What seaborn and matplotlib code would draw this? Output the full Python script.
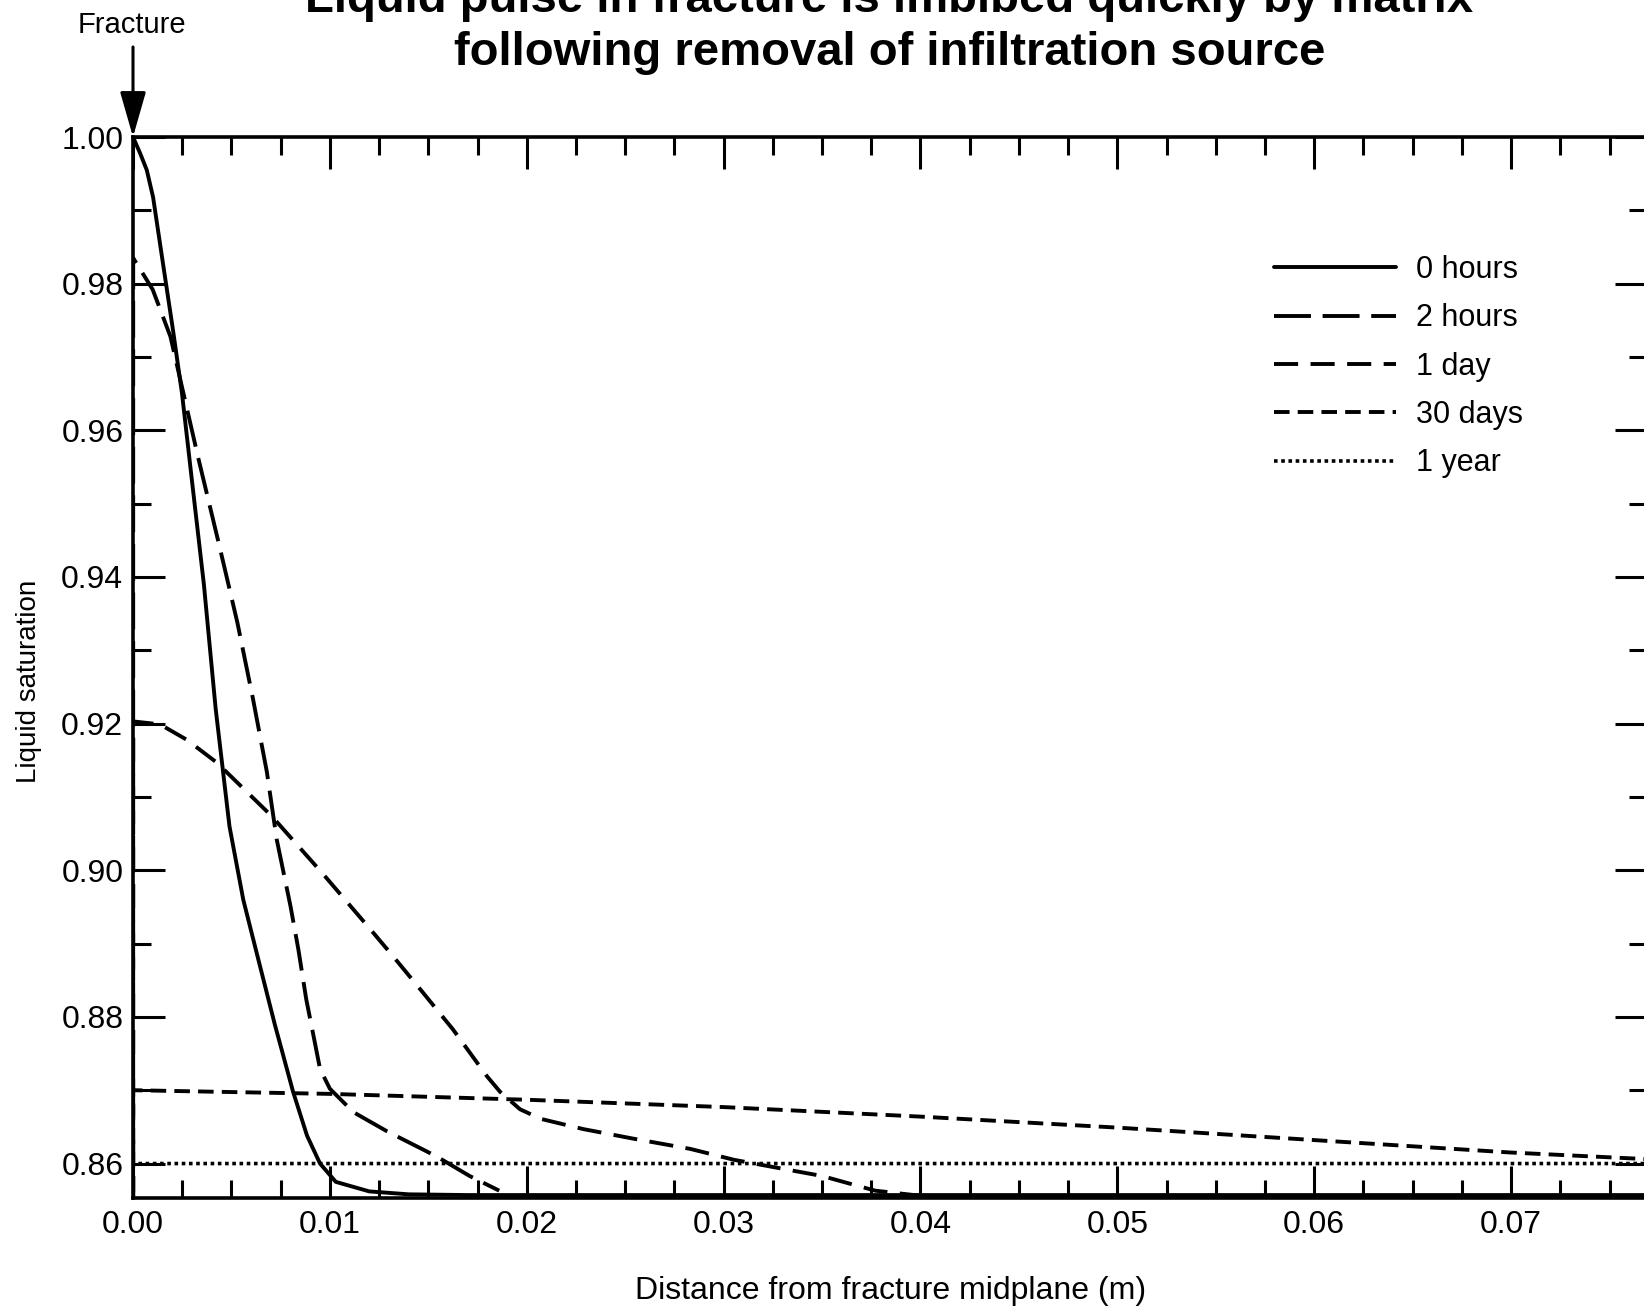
import matplotlib
matplotlib.use("Agg")
import matplotlib.pyplot as plt
import seaborn as sns
import pandas as pd
from matplotlib.ticker import MultipleLocator, FormatStrFormatter

# ---------------- data ----------------
series_labels = ["0 hours", "2 hours", "1 day", "30 days", "1 year"]

x_0h = [0.0, 0.00036, 0.0007, 0.00102, 0.00152, 0.00203, 0.00249, 0.00300, 0.00360,
        0.00420, 0.00490, 0.00560, 0.00635, 0.00720, 0.00813, 0.00884, 0.00950,
        0.01030, 0.01200, 0.01400, 0.01700, 0.03000, 0.05000, 0.07000, 0.07690]
y_0h = [1.0, 0.9978, 0.9955, 0.9918, 0.9828, 0.9737, 0.9650, 0.9530, 0.9390,
        0.9220, 0.9060, 0.8960, 0.8880, 0.8790, 0.8698, 0.8638, 0.8600,
        0.8575, 0.8562, 0.8558, 0.8557, 0.8557, 0.8557, 0.8557, 0.8557]

x_2h = [0.0, 0.00001, 0.0010, 0.0019, 0.0026, 0.0033, 0.0044, 0.0053, 0.0061, 0.0068,
        0.0073, 0.0080, 0.0084, 0.0088, 0.0092, 0.0095, 0.0100, 0.0112, 0.0129,
        0.0154, 0.0171, 0.0186]
y_2h = [0.0, 0.9835, 0.9792, 0.9728, 0.9646, 0.9564, 0.9441, 0.9338, 0.9233, 0.9134,
        0.9042, 0.8951, 0.8892, 0.8824, 0.8770, 0.8729, 0.8702, 0.8670, 0.8644,
        0.8610, 0.8583, 0.8563]

x_1d = [0.0, 0.00001, 0.00137, 0.00273, 0.00425, 0.00704, 0.00965, 0.01204, 0.01320,
        0.01458, 0.01625, 0.01798, 0.01864, 0.01966, 0.02070, 0.02287, 0.02540,
        0.02830, 0.03054, 0.03500, 0.03770, 0.04000]
y_1d = [0.0, 0.9203, 0.9199, 0.9178, 0.9147, 0.9074, 0.8995, 0.8920, 0.8883,
        0.8838, 0.8783, 0.8719, 0.8698, 0.8674, 0.8661, 0.8647, 0.8634,
        0.8620, 0.8605, 0.8583, 0.8563, 0.8556]

x_30d = [0.0, 0.00001, 0.010, 0.020, 0.030, 0.040, 0.050, 0.060, 0.070, 0.0769]
y_30d = [0.0, 0.8700, 0.8695, 0.8687, 0.8677, 0.8664, 0.8649, 0.8632, 0.8615, 0.8606]

x_1y = [0.0, 0.00001, 0.0769]
y_1y = [0.0, 0.8600, 0.8600]

x_ticks_major = 0.01
y_ticks_major = 0.02

title_line1 = "Liquid pulse in fracture is imbibed quickly by matrix"
title_line2 = "following removal of infiltration source"

# ---------------- long-form table ----------------
frames = []
for lab, xs, ys in zip(series_labels, [x_0h, x_2h, x_1d, x_30d, x_1y],
                       [y_0h, y_2h, y_1d, y_30d, y_1y]):
    frames.append(pd.DataFrame({"distance": xs, "saturation": ys, "series": lab}))
df = pd.concat(frames, ignore_index=True)

line_styles = {
    "0 hours": dict(linestyle="-", linewidth=2.8),
    "2 hours": dict(linestyle=(0, (9.5, 3.0)), linewidth=2.8),
    "1 day": dict(linestyle=(0, (6.2, 3.2)), linewidth=2.8),
    "30 days": dict(linestyle=(0, (4.0, 2.1)), linewidth=2.8),
    "1 year": dict(linestyle=(0, (1, 1.0)), linewidth=2.6),
}

# ---------------- figure ----------------
sns.set_style("ticks")
plt.rcParams["font.family"] = ["Liberation Sans", "DejaVu Sans"]
plt.rcParams["text.color"] = "black"
plt.rcParams["axes.labelcolor"] = "black"
plt.rcParams["xtick.color"] = "black"
plt.rcParams["ytick.color"] = "black"

fig = plt.figure(figsize=(16.44, 13.09), dpi=100)
ax = fig.add_axes([0.0809, 0.0848, 0.9209, 0.8105])

for lab in series_labels:
    sub = df[df["series"] == lab]
    sns.lineplot(data=sub, x="distance", y="saturation", ax=ax, color="black",
                 sort=False, estimator=None, legend=False, label=lab,
                 **line_styles[lab])

ax.set_xlim(0, 0.0769)
ax.set_ylim(0.8553, 1.0)
ax.xaxis.set_major_locator(MultipleLocator(x_ticks_major))
ax.xaxis.set_minor_locator(MultipleLocator(x_ticks_major / 4))
ax.yaxis.set_major_locator(MultipleLocator(y_ticks_major))
ax.yaxis.set_minor_locator(MultipleLocator(y_ticks_major / 2))
ax.xaxis.set_major_formatter(FormatStrFormatter("%.2f"))
ax.yaxis.set_major_formatter(FormatStrFormatter("%.2f"))

ax.tick_params(which="both", direction="in", top=True, right=True,
               bottom=True, left=True, labeltop=False, labelright=False,
               color="black", labelcolor="black", width=2.2)
ax.tick_params(which="major", length=23, labelsize=23)
ax.tick_params(axis="x", which="major", pad=9)
ax.tick_params(axis="y", which="major", pad=7)
ax.tick_params(which="minor", length=13)

for sp in ax.spines.values():
    sp.set_color("black")
    sp.set_linewidth(2.6)

ax.set_xlabel("Distance from fracture midplane (m)", fontsize=23, color="black")
ax.xaxis.set_label_coords(0.5007, -0.0735)
ax.set_ylabel("Liquid saturation", fontsize=20, color="black")
ax.yaxis.label.set_va("center")
ax.yaxis.set_label_coords(-0.0687, 0.487)

handles, labels = ax.get_legend_handles_labels()
leg = ax.legend(handles, labels, loc="upper left",
                bbox_to_anchor=(1274 / 1644, 1 - 255 / 1309),
                bbox_transform=fig.transFigure, frameon=False, fontsize=22,
                handlelength=4.0, handletextpad=0.65, labelspacing=0.6,
                borderpad=0, borderaxespad=0)
for t in leg.get_texts():
    t.set_color("black")

# title (upper line partly cut off at the top edge, as in the scan)
fig.text(0.541, 1 - 12 / 1309, title_line1, ha="center", va="baseline",
         fontsize=34, fontweight="bold", color="black")
fig.text(0.541, 1 - 65 / 1309, title_line2, ha="center", va="baseline",
         fontsize=34, fontweight="bold", color="black")

# Fracture marker
fig.text(132 / 1644, 1 - 33 / 1309, "Fracture", ha="center", va="baseline",
         fontsize=21, color="black")
ax.annotate("", xy=(0, 1.0), xycoords="data",
            xytext=(0, 1 - 47 / 1309), textcoords=("data", "figure fraction"),
            annotation_clip=False,
            arrowprops=dict(arrowstyle="-|>,head_length=1.4,head_width=0.40",
                            mutation_scale=20, lw=2.2, color="black",
                            shrinkA=0, shrinkB=0))

fig.savefig("out.png", dpi=100, facecolor="white")
